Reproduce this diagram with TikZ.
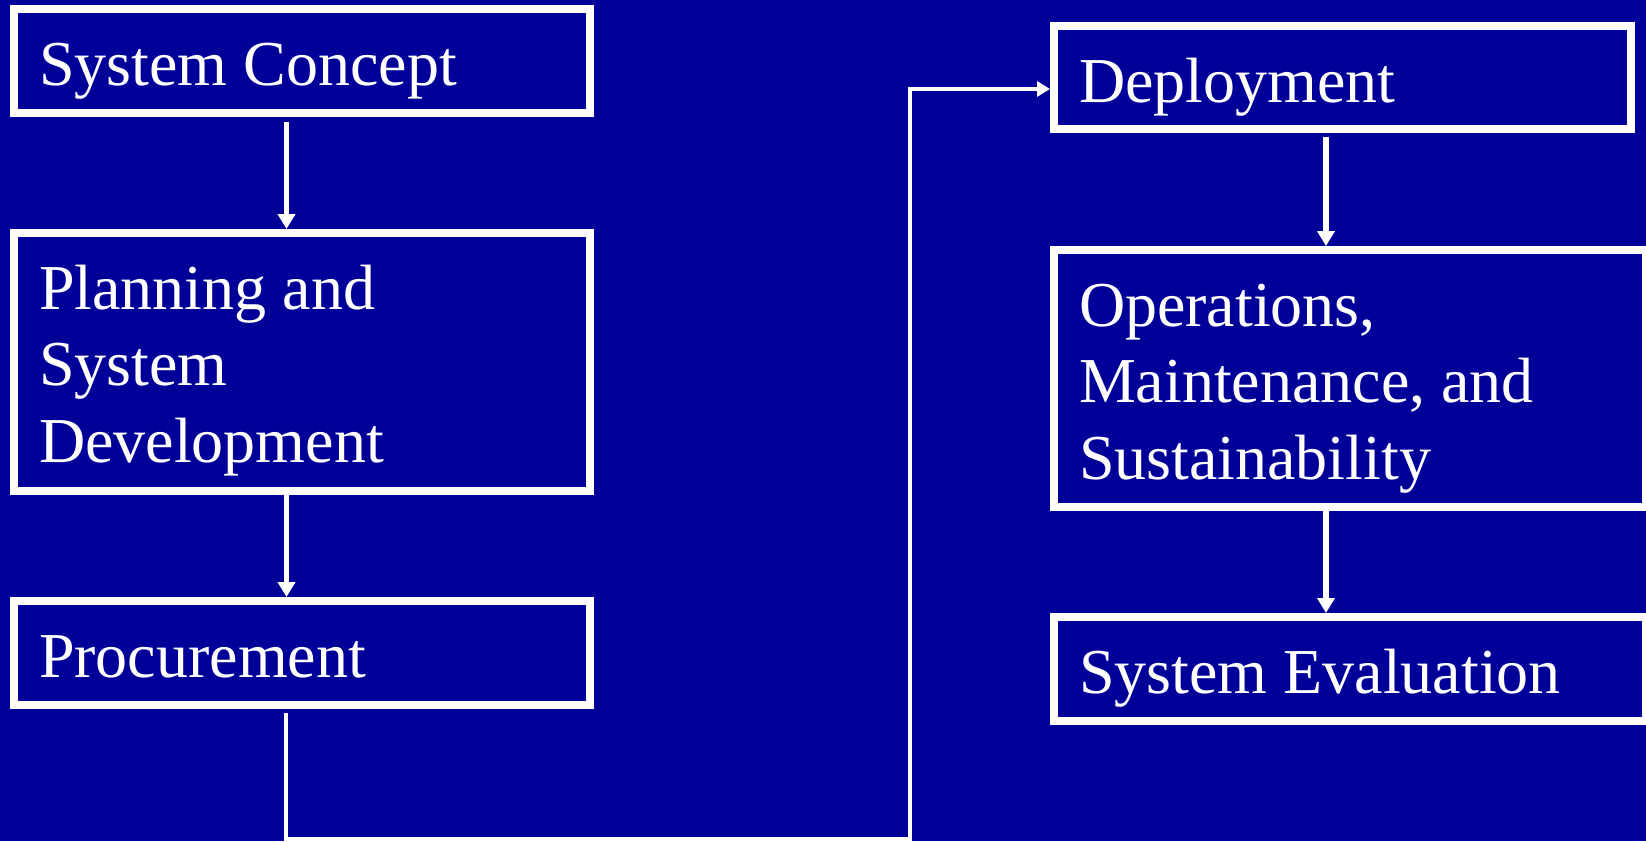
\documentclass[tikz,border=0pt]{standalone}
\usepackage{fontspec}
\setmainfont{Liberation Serif}
\usetikzlibrary{arrows.meta}

\definecolor{slideblue}{RGB}{0,0,153}

\begin{document}
\begin{tikzpicture}[
    x=1pt, y=-1pt,
    stage/.style={draw=white, line width=8pt, rectangle, inner sep=0pt, outer sep=0pt},
    stagetext/.style={text=white, inner sep=0pt, outer sep=0pt, anchor=base west,
      font=\fontsize{64}{76.5}\selectfont},
    flow/.style={draw=white, line width=5.5pt,
      -{Triangle[width=17pt,length=15pt]}},
    link/.style={draw=white, line width=3.5pt,
      -{Triangle[width=15pt,length=13pt]}},
  ]
  % page and background
  \fill[slideblue] (0,0) rectangle (1646,841);
  \useasboundingbox (0,0) rectangle (1646,841);

  % left column
  \node[stage, minimum width=576pt, minimum height=104pt] (concept) at (302,61) {};
  \node[stage, minimum width=576pt, minimum height=258pt] (planning) at (302,362) {};
  \node[stage, minimum width=576pt, minimum height=104pt] (procure) at (302,653) {};

  % right column
  \node[stage, minimum width=577pt, minimum height=103pt] (deploy) at (1342.5,77.5) {};
  \node[stage, minimum width=592pt, minimum height=257pt] (operate) at (1350,378.5) {};
  \node[stage, minimum width=592pt, minimum height=104pt] (evaluate) at (1350,669) {};

  % labels
  \node[stagetext] (tconcept) at ([shift={(25,76)}]concept.north west) {System Concept};
  \node[stagetext] (tplanning) at ([shift={(25,76)}]planning.north west)
    {\vtop{\baselineskip=76.5pt\hbox{Planning and}\hbox{System}\hbox{Development}}};
  \node[stagetext] (tprocure) at ([shift={(25,76)}]procure.north west) {Procurement};
  \node[stagetext] (tdeploy) at ([shift={(25,76)}]deploy.north west) {Deployment};
  \node[stagetext] (toperate) at ([shift={(25,76)}]operate.north west)
    {\vtop{\baselineskip=76.5pt\hbox{Operations,}\hbox{Maintenance, and}\hbox{Sustainability}}};
  \node[stagetext] (tevaluate) at ([shift={(25,76)}]evaluate.north west) {System Evaluation};

  % downward steps
  \draw[flow] ([xshift=-15.5pt,yshift=-9pt]concept.south) -- ([xshift=-15.5pt,yshift=4pt]planning.north);
  \draw[flow] ([xshift=-15.5pt,yshift=-4pt]planning.south) -- ([xshift=-15.5pt,yshift=4pt]procure.north);
  \draw[flow] ([xshift=-16.5pt,yshift=-8pt]deploy.south) -- ([xshift=-24pt,yshift=4pt]operate.north);
  \draw[flow] ([xshift=-24pt,yshift=-4pt]operate.south) -- ([xshift=-24pt,yshift=4pt]evaluate.north);

  % return path from procurement to deployment
  \coordinate (bend) at (910,839);
  \draw[link] ([xshift=-16pt,yshift=-8pt]procure.south) |- (bend)
    |- ([xshift=-4pt,yshift=-11.5pt]deploy.west);
\end{tikzpicture}
\end{document}
